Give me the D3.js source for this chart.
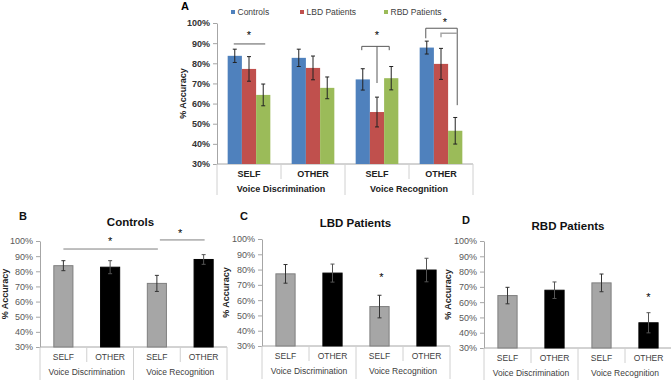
<!DOCTYPE html>
<html>
<head>
<meta charset="utf-8">
<script src="https://cdn.jsdelivr.net/npm/d3@7"></script>
<style>
  html, body { margin: 0; padding: 0; background: #fff; }
  svg { display: block; font-family: "Liberation Sans", Arial, sans-serif; }
</style>
</head>
<body>
<svg id="chart" width="671" height="380"></svg>
<script>
// ---------------- DATA ----------------
const categories = ["SELF", "OTHER", "SELF", "OTHER"];
const groups = ["Voice Discrimination", "Voice Recognition"];
const seriesNames = ["Controls", "LBD Patients", "RBD Patients"];
const controlsMean = [83.7, 82.7, 72.0, 87.8];
const controlsErr  = [3.3, 4.3, 5.3, 3.2];
const lbdMean      = [77.2, 77.7, 55.8, 79.7];
const lbdErr       = [6.1, 5.9, 7.4, 7.7];
const rbdMean      = [64.3, 67.8, 72.6, 46.5];
const rbdErr       = [5.4, 5.4, 5.8, 6.6];
const yTicks = [30, 40, 50, 60, 70, 80, 90, 100];
const panelTitles = ["Controls", "LBD Patients", "RBD Patients"];
const panelLetters = ["A", "B", "C", "D"];
const yLabel = "% Accuracy";

const seriesMeans = [controlsMean, lbdMean, rbdMean];
const seriesErrs = [controlsErr, lbdErr, rbdErr];
const seriesColors = ["#4F81BD", "#C0504D", "#9BBB59"];

const svg = d3.select("#chart");
svg.append("rect").attr("width", 671).attr("height", 380).attr("fill", "#fff");

function yAxisDraw(g, y, x0, bold, color) {
  const ax = g.append("g").attr("transform", `translate(${x0},0)`)
    .call(d3.axisLeft(y).tickValues(yTicks).tickFormat(d => d + "%").tickSize(4).tickSizeOuter(0).tickPadding(3));
  ax.select(".domain").attr("stroke", "#A6A6A6");
  ax.selectAll(".tick line").attr("stroke", "#A6A6A6");
  ax.selectAll(".tick text").attr("font-size", 9)
    .attr("font-weight", bold ? "bold" : "normal")
    .attr("fill", color)
    .attr("font-family", "Liberation Sans, Arial, sans-serif");
  return ax;
}

function catAxisDraw(g, x, yBase, x0, x1, opt) {
  // baseline
  g.append("line").attr("x1", x0).attr("x2", x1).attr("y1", yBase).attr("y2", yBase)
    .attr("stroke", "#A6A6A6");
  const step = x.step();
  for (let i = 0; i <= categories.length; i++) {
    const xx = x0 + i * step;
    const isGroup = (i % 2 === 0);
    g.append("line").attr("x1", xx).attr("x2", xx)
      .attr("y1", yBase).attr("y2", yBase + (isGroup ? opt.groupLen : opt.innerLen))
      .attr("stroke", "#D0D0D0");
  }
  g.selectAll(".cat").data(categories).enter().append("text")
    .attr("x", (d, i) => x(i) + x.bandwidth() / 2)
    .attr("y", yBase + opt.catDy)
    .attr("text-anchor", "middle")
    .attr("font-size", opt.fs)
    .attr("font-weight", opt.bold ? "bold" : "normal")
    .attr("fill", opt.color)
    .text(d => d);
  g.selectAll(".grp").data(groups).enter().append("text")
    .attr("x", (d, i) => x0 + (2 * i + 1) * step)
    .attr("y", yBase + opt.grpDy)
    .attr("text-anchor", "middle")
    .attr("font-size", opt.fs)
    .attr("font-weight", opt.bold ? "bold" : "normal")
    .attr("fill", opt.color)
    .text(d => d);
}

function star(g, x, y) {
  g.append("text").attr("x", x).attr("y", y + 5).attr("text-anchor", "middle")
    .attr("font-size", 11).attr("fill", "#000").text("*");
}

// ---------------- PANEL A ----------------
(function () {
  const L = { x0: 217, x1: 473, yTop: 23, yBot: 164 };
  const g = svg.append("g");
  const y = d3.scaleLinear().domain([30, 100]).range([L.yBot, L.yTop]);
  const x = d3.scaleBand().domain(d3.range(categories.length)).range([L.x0, L.x1]).padding(0);
  const xs = d3.scaleBand().domain(d3.range(seriesNames.length)).range([0, x.step()])
    .paddingInner(0).paddingOuter(0.75);

  yAxisDraw(g, y, L.x0, true, "#333");
  catAxisDraw(g, x, L.yBot, L.x0, L.x1, { groupLen: 31, innerLen: 15, catDy: 13, grpDy: 28, fs: 9, bold: true, color: "#222" });

  seriesNames.forEach((s, si) => {
    const data = seriesMeans[si].map((v, i) => ({ i, v, e: seriesErrs[si][i] }));
    g.selectAll(".bar" + si).data(data).enter().append("rect")
      .attr("x", d => x(d.i) + xs(si))
      .attr("y", d => y(d.v))
      .attr("width", xs.bandwidth())
      .attr("height", d => y(30) - y(d.v))
      .attr("fill", seriesColors[si]);
    const eg = g.append("g").attr("stroke", "#222").attr("stroke-width", 1);
    data.forEach(d => {
      const cx = x(d.i) + xs(si) + xs.bandwidth() / 2;
      eg.append("line").attr("x1", cx).attr("x2", cx).attr("y1", y(d.v + d.e)).attr("y2", y(d.v - d.e));
      eg.append("line").attr("x1", cx - 2).attr("x2", cx + 2).attr("y1", y(d.v + d.e)).attr("y2", y(d.v + d.e));
      eg.append("line").attr("x1", cx - 2).attr("x2", cx + 2).attr("y1", y(d.v - d.e)).attr("y2", y(d.v - d.e));
    });
  });

  const cxOf = (cat, si) => x(cat) + xs(si) + xs.bandwidth() / 2;
  const bl = g.append("g").attr("fill", "none").attr("stroke", "#595959").attr("stroke-width", 1);
  // Disc SELF
  bl.append("line").attr("x1", cxOf(0, 0) - 1).attr("x2", cxOf(0, 2) + 2).attr("y1", y(89.6)).attr("y2", y(89.6));
  star(g, (cxOf(0, 0) + cxOf(0, 2)) / 2, y(94.4));
  // Rec SELF
  bl.append("path").attr("d",
    `M${cxOf(2, 0) - 1},${y(86.5)}V${y(88.4)}H${cxOf(2, 2) - 2}V${y(86.5)}`);
  bl.append("line").attr("x1", cxOf(2, 1)).attr("x2", cxOf(2, 1)).attr("y1", y(88.4)).attr("y2", y(70.2));
  star(g, cxOf(2, 1), y(94.7));
  // Rec OTHER
  bl.append("path").attr("d",
    `M${cxOf(3, 0) - 1},${y(92.4)}V${y(97.4)}H${cxOf(3, 2) + 2}V${y(59.2)}`);
  g.append("path").attr("fill", "none").attr("stroke", "#A6A6A6").attr("stroke-width", 1.5)
    .attr("d", `M${cxOf(3, 1)},${y(92.9)}V${y(94.9)}H${cxOf(3, 2) + 2}`);
  star(g, cxOf(3, 1) + 4, y(100.8));

  // Y label
  g.append("text").attr("transform", `translate(${186},${(L.yTop + L.yBot) / 2}) rotate(-90)`)
    .attr("text-anchor", "middle").attr("font-size", 9).attr("font-weight", "bold").attr("fill", "#222")
    .text(yLabel);
  // Letter
  g.append("text").attr("x", 181).attr("y", 10).attr("font-size", 11).attr("font-weight", "bold").text(panelLetters[0]);
  // Legend
  const legX = [233, 302, 386];
  seriesNames.forEach((s, si) => {
    g.append("rect").attr("x", legX[si] - 2).attr("y", 10).attr("width", 4).attr("height", 4).attr("fill", seriesColors[si]);
    g.append("text").attr("x", legX[si] + 4.5).attr("y", 15).attr("font-size", 8.5).attr("fill", "#404040").text(s);
  });
})();

// ---------------- PANELS B, C, D ----------------
const smallLayouts = [
  { x0: 40, x1: 227, yTop: 241, yBot: 347, ylx: 8, titleX: 130.5, titleY: 226, letX: 19, letY: 220, starsAt: null },
  { x0: 262, x1: 450, yTop: 239, yBot: 346, ylx: 229, titleX: 355.5, titleY: 226.5, letX: 240, letY: 220 },
  { x0: 484, x1: 672, yTop: 241, yBot: 348, ylx: 451, titleX: 568, titleY: 230, letX: 462, letY: 224 }
];

smallLayouts.forEach((L, pi) => {
  const g = svg.append("g");
  const means = seriesMeans[pi], errs = seriesErrs[pi];
  const y = d3.scaleLinear().domain([30, 100]).range([L.yBot, L.yTop]);
  const x = d3.scaleBand().domain(d3.range(categories.length)).range([L.x0, L.x1])
    .paddingInner(0.57).paddingOuter(0.285);
  const xc = d3.scaleBand().domain(d3.range(categories.length)).range([L.x0, L.x1]).padding(0);

  yAxisDraw(g, y, L.x0, false, "#595959");
  catAxisDraw(g, xc, L.yBot, L.x0, L.x1, { groupLen: 33, innerLen: 15, catDy: 13, grpDy: 28, fs: 8.5, bold: false, color: "#404040" });

  const data = means.map((v, i) => ({ i, v, e: errs[i] }));
  g.selectAll(".bar").data(data).enter().append("rect")
    .attr("x", d => x(d.i) + 0.5)
    .attr("y", d => y(d.v))
    .attr("width", x.bandwidth() - 1)
    .attr("height", d => y(30) - y(d.v))
    .attr("fill", d => d.i % 2 === 0 ? "#A6A6A6" : "#000")
    .attr("stroke", d => d.i % 2 === 0 ? "#7F7F7F" : "#000")
    .attr("stroke-width", 1);
  const eg = g.append("g").attr("stroke-width", 1);
  data.forEach(d => {
    const cx = x(d.i) + x.bandwidth() / 2;
    const col = d.i % 2 === 0 ? "#333" : "#555";
    eg.append("line").attr("stroke", col).attr("x1", cx).attr("x2", cx).attr("y1", y(d.v + d.e)).attr("y2", y(d.v - d.e));
    eg.append("line").attr("stroke", col).attr("x1", cx - 2).attr("x2", cx + 2).attr("y1", y(d.v + d.e)).attr("y2", y(d.v + d.e));
    eg.append("line").attr("stroke", col).attr("x1", cx - 2).attr("x2", cx + 2).attr("y1", y(d.v - d.e)).attr("y2", y(d.v - d.e));
  });

  const cxOf = i => x(i) + x.bandwidth() / 2;
  if (pi === 0) {
    g.append("line").attr("stroke", "#7F7F7F").attr("x1", cxOf(0)).attr("x2", cxOf(2) + 1)
      .attr("y1", y(94.7)).attr("y2", y(94.7));
    star(g, (cxOf(0) + cxOf(2)) / 2, y(100.7));
    g.append("line").attr("stroke", "#7F7F7F").attr("x1", cxOf(2) + 3).attr("x2", cxOf(3) + 1)
      .attr("y1", y(100.7)).attr("y2", y(100.7));
    star(g, (cxOf(2) + cxOf(3)) / 2, y(105.8));
  } else if (pi === 1) {
    star(g, cxOf(2) + 2, y(75.8));
  } else {
    star(g, cxOf(3), y(64));
  }

  g.append("text").attr("transform", `translate(${L.ylx},${(L.yTop + L.yBot) / 2}) rotate(-90)`)
    .attr("text-anchor", "middle").attr("font-size", 9).attr("font-weight", "bold").attr("fill", "#222")
    .text(yLabel);
  g.append("text").attr("x", L.titleX).attr("y", L.titleY).attr("text-anchor", "middle")
    .attr("font-size", 11.5).attr("font-weight", "bold").attr("fill", "#111").text(panelTitles[pi]);
  g.append("text").attr("x", L.letX).attr("y", L.letY).attr("font-size", 11).attr("font-weight", "bold")
    .attr("fill", "#111").text(panelLetters[pi + 1]);
});
</script>
</body>
</html>
